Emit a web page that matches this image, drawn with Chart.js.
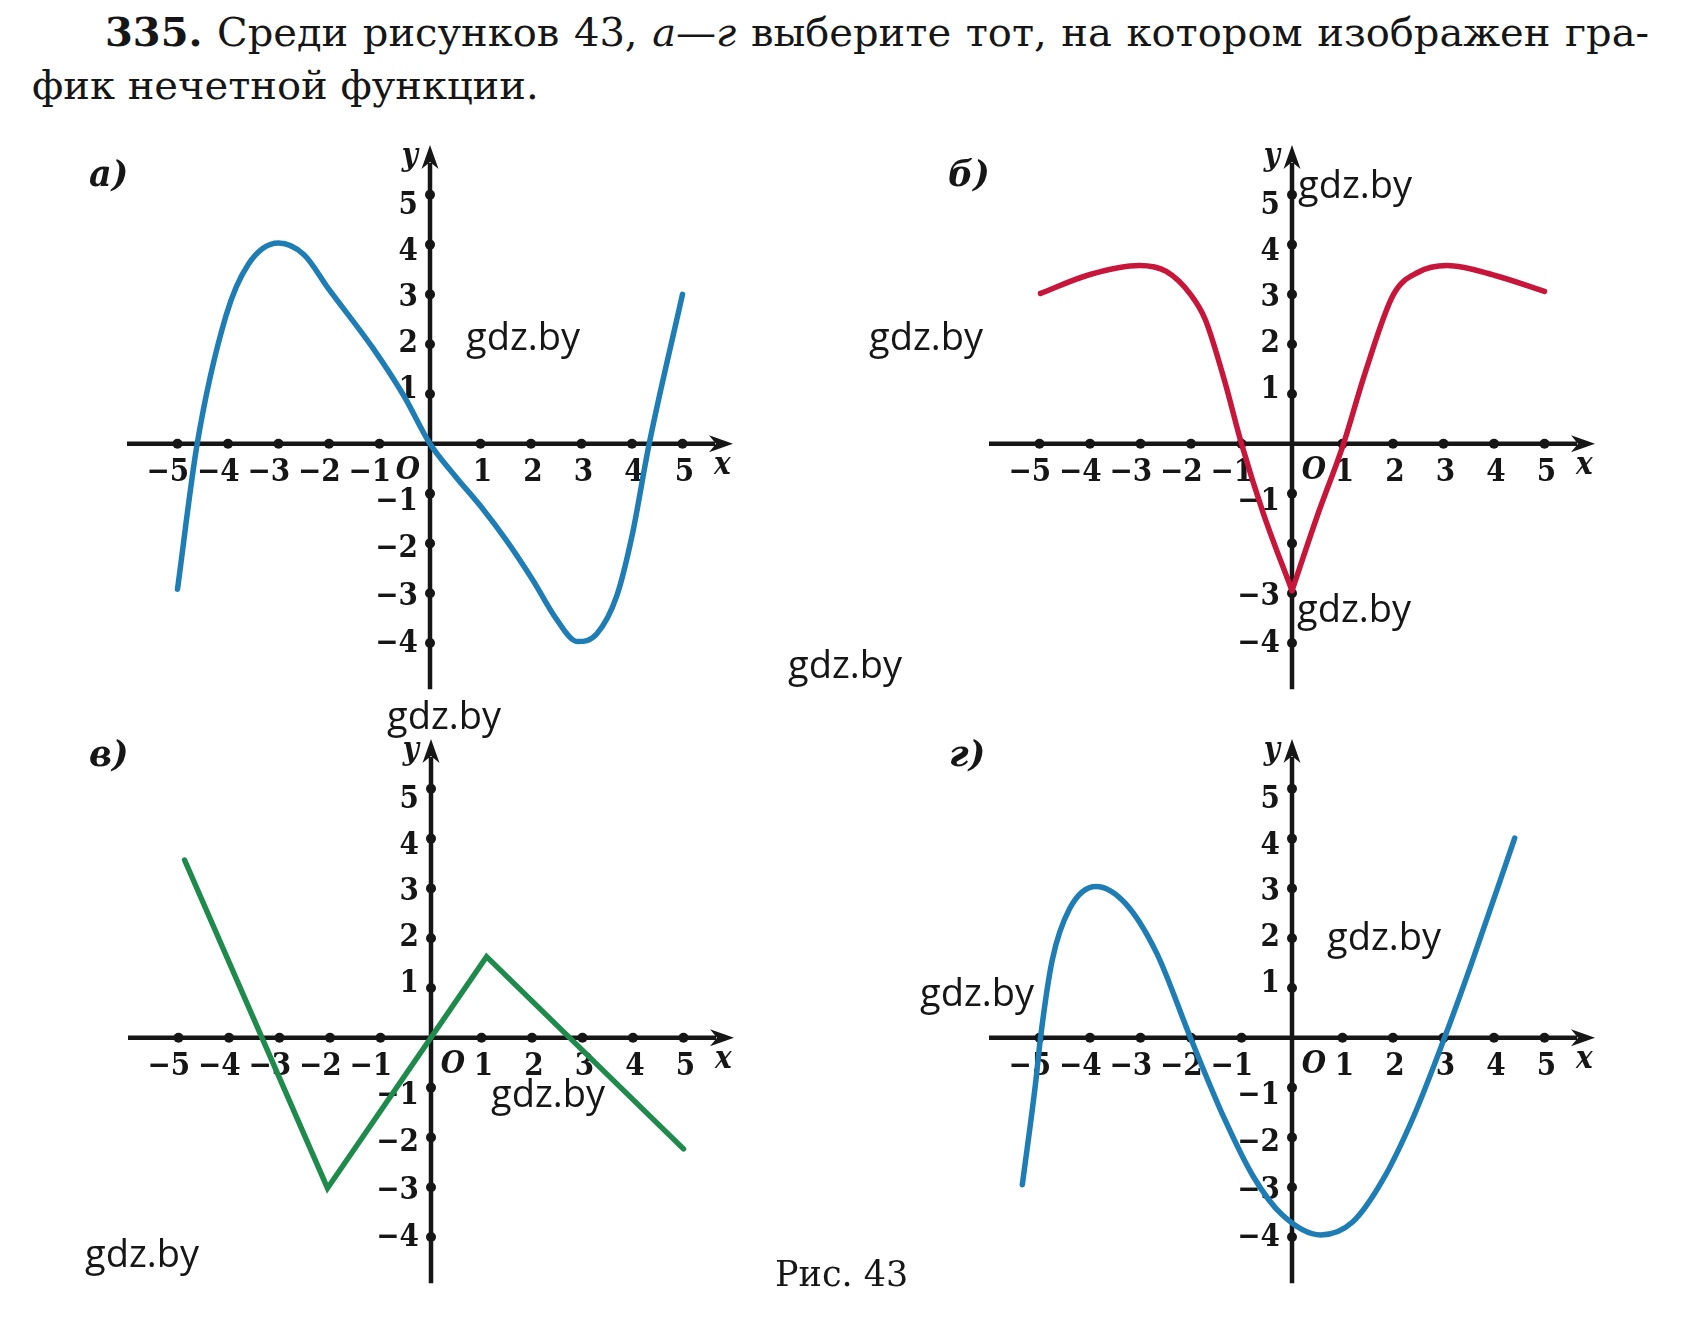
<!DOCTYPE html>
<html>
<head>
<meta charset="utf-8">
<script src="https://cdn.jsdelivr.net/npm/chart.js@4.4.1/dist/chart.umd.min.js"></script>
<style>
html, body { margin: 0; padding: 0; background: #fff; }
#page { position: relative; width: 1692px; height: 1343px; overflow: hidden; background: #fff; }
#page canvas { position: absolute; }
.txt { position: absolute; white-space: pre; color: #161616; }
</style>
</head>
<body>
<div id="page"></div>
<script>
// ticks on both axes
const xTicks = [-5, -4, -3, -2, -1, 1, 2, 3, 4, 5];
const yTicks = [-4, -3, -2, -1, 1, 2, 3, 4, 5];
const yLabelsA = [-4, -3, -2, -1, 1, 2, 3, 4, 5];
const yLabelsB = [-4, -3, -1, 1, 2, 3, 4, 5];
const yLabelsV = [-4, -3, -2, -1, 1, 2, 3, 4, 5];
const yLabelsG = [-4, -3, -2, -1, 1, 2, 3, 4, 5];

// a) blue curve
const curveAX = [-5, -4.61, -4.04, -3.6, -3.0, -2.5, -2.0, -1.13, -0.51, 0, 0.5, 1.0, 1.52, 2.05, 2.49, 2.92, 3.3, 3.7, 4.0, 4.34, 5.0];
const curveAY = [-2.92, 0, 2.57, 3.6, 4.03, 3.8, 3.1, 1.92, 0.95, 0, -0.65, -1.25, -1.95, -2.76, -3.5, -3.97, -3.82, -3.05, -1.85, 0, 3.0];

// б) red curve, two halves meeting in the cusp at x = 0
const curveBLeftX = [-4.98, -4.0, -3.02, -2.49, -2.01, -1.72, -1.34, -1.0, -0.57, 0];
const curveBLeftY = [3.02, 3.4, 3.58, 3.46, 3.0, 2.5, 1.28, 0, -1.39, -2.95];
const curveBRightX = [0, 0.5, 1.02, 1.44, 2.01, 2.49, 3.07, 4.02, 5.0];
const curveBRightY = [-2.95, -1.45, 0, 1.4, 3.0, 3.44, 3.58, 3.38, 3.06];

// в) green broken line
const lineVX = [-4.88, -2.05, 1.1, 5.0];
const lineVY = [3.57, -3.02, 1.63, -2.23];

// г) blue curve
const curveGX = [-5.34, -5.08, -4.98, -4.75, -4.4, -3.88, -3.3, -2.68, -2.01, -1.34, -0.77, -0.2, 0.57, 1.2, 1.8, 2.4, 3.02, 3.54, 4.41];
const curveGY = [-2.95, -0.93, 0, 1.55, 2.6, 3.04, 2.7, 1.7, 0, -1.62, -2.78, -3.55, -3.96, -3.7, -2.85, -1.6, 0, 1.45, 4.01];

const BLUE = '#1f7db5';
const RED = '#c8153a';
const GREEN = '#1e8b4c';
const INK = '#161616';

const UX = 50.5;
const UY = 49.8;
const CW = 720, CH = 600, PAD_L = 70, PAD_T = 20;

const page = document.getElementById('page');
const measureCtx = document.createElement('canvas').getContext('2d');

function pts(xs, ys) {
    return xs.map((x, i) => ({x: x, y: ys[i]}));
}

function minusStr(v) {
    return v < 0 ? '\u2212' + Math.abs(v) : String(v);
}

function arrow(ctx, tx, ty, dx, dy) {
    const len = 24, half = 8.5, notch = 17;
    const px = -dy, py = dx;
    ctx.beginPath();
    ctx.moveTo(tx, ty);
    ctx.lineTo(tx - dx * len + px * half, ty - dy * len + py * half);
    ctx.lineTo(tx - dx * notch, ty - dy * notch);
    ctx.lineTo(tx - dx * len - px * half, ty - dy * len - py * half);
    ctx.closePath();
    ctx.fill();
}

const NUM_FONT = 'bold 31px "DejaVu Serif Condensed", "DejaVu Serif", serif';
const ITAL_FONT = 'italic bold 31px "DejaVu Serif Condensed", "DejaVu Serif", serif';

// the printed y labels sit a little closer together than the dots
function yLabelBaseline(oy, v) {
    return v > 0 ? oy - v * 46 + 0.5 : oy - v * 47.5 + 18.5;
}

// draws the axes with arrows, tick dots and labels under the curves
const axesPlugin = {
    id: 'axes',
    beforeDatasetsDraw(chart, args, opts) {
        const ctx = chart.ctx;
        const x = chart.scales.x, y = chart.scales.y;
        const ox = x.getPixelForValue(0), oy = y.getPixelForValue(0);
        const xStart = x.getPixelForValue(-6), xEnd = x.getPixelForValue(6);
        const yTop = y.getPixelForValue(6), yBottom = y.getPixelForValue(-4.93);

        ctx.save();
        ctx.strokeStyle = INK;
        ctx.fillStyle = INK;
        ctx.lineWidth = 4.5;
        ctx.beginPath();
        ctx.moveTo(xStart, oy);
        ctx.lineTo(xEnd - 18, oy);
        ctx.moveTo(ox, yBottom);
        ctx.lineTo(ox, yTop + 18);
        ctx.stroke();
        arrow(ctx, xEnd, oy, 1, 0);
        arrow(ctx, ox, yTop, 0, -1);

        for (const v of xTicks) {
            ctx.beginPath();
            ctx.arc(x.getPixelForValue(v), oy, 5, 0, Math.PI * 2);
            ctx.fill();
        }
        for (const v of yTicks) {
            ctx.beginPath();
            ctx.arc(ox, y.getPixelForValue(v), 5, 0, Math.PI * 2);
            ctx.fill();
        }

        ctx.font = NUM_FONT;
        ctx.textBaseline = 'alphabetic';
        ctx.textAlign = 'right';
        for (const v of xTicks) {
            const digitW = ctx.measureText(String(Math.abs(v))).width;
            ctx.fillText(minusStr(v), x.getPixelForValue(v) + digitW / 2 + 2, oy + 37);
        }
        for (const v of opts.yLabels) {
            ctx.fillText(minusStr(v), ox - 12, yLabelBaseline(oy, v));
        }

        ctx.font = ITAL_FONT;
        ctx.textAlign = 'center';
        ctx.fillText('O', ox + opts.oSide * 22, oy + 35);
        ctx.textAlign = 'right';
        ctx.fillText('y', ox - 12, yTop + 20);
        ctx.textAlign = 'left';
        ctx.fillText('x', xEnd - 19, oy + 30);
        ctx.restore();
    }
};

function curve(data, color, straight) {
    return {
        data: data,
        showLine: true,
        borderColor: color,
        borderWidth: 5.5,
        pointRadius: 0,
        fill: false,
        borderJoinStyle: 'miter',
        borderCapStyle: 'round',
        cubicInterpolationMode: straight ? 'default' : 'monotone',
        tension: 0
    };
}

function makePanel(ox, oy, datasets, yLabels, oSide) {
    const canvas = document.createElement('canvas');
    canvas.width = CW;
    canvas.height = CH;
    canvas.style.left = (ox - 6 * UX - PAD_L) + 'px';
    canvas.style.top = (oy - 6 * UY - PAD_T) + 'px';
    page.appendChild(canvas);
    return new Chart(canvas, {
        type: 'scatter',
        data: { datasets: datasets },
        options: {
            responsive: false,
            animation: false,
            events: [],
            layout: {
                padding: {
                    left: PAD_L,
                    top: PAD_T,
                    right: CW - PAD_L - 12 * UX,
                    bottom: CH - PAD_T - 11 * UY
                }
            },
            scales: {
                x: { type: 'linear', min: -6, max: 6, display: false },
                y: { type: 'linear', min: -5, max: 6, display: false }
            },
            plugins: {
                legend: { display: false },
                tooltip: { enabled: false },
                axes: { yLabels: yLabels, oSide: oSide }
            }
        },
        plugins: [axesPlugin]
    });
}

makePanel(430, 443.5, [curve(pts(curveAX, curveAY), BLUE)], yLabelsA, -1);
makePanel(1292, 443.5, [
    curve(pts(curveBLeftX, curveBLeftY), RED),
    curve(pts(curveBRightX, curveBRightY), RED)
], yLabelsB, 1);
makePanel(431, 1038, [curve(pts(lineVX, lineVY), GREEN, true)], yLabelsV, 1);
makePanel(1292, 1038, [curve(pts(curveGX, curveGY), BLUE)], yLabelsG, 1);

// plain text around the charts, placed by its baseline
function placeText(html, font, left, baseline, width) {
    const el = document.createElement('div');
    el.className = 'txt';
    el.style.font = font;
    el.style.lineHeight = '0px';
    el.innerHTML = html;
    page.appendChild(el);
    measureCtx.font = font;
    const m = measureCtx.measureText('Hg');
    const shift = (m.fontBoundingBoxAscent - m.fontBoundingBoxDescent) / 2;
    el.style.left = left + 'px';
    el.style.top = (baseline - shift) + 'px';
    if (width) {
        const natural = el.getBoundingClientRect().width;
        const spaces = (el.textContent.match(/ /g) || []).length;
        el.style.wordSpacing = ((width - natural) / spaces) + 'px';
    }
    return el;
}

const TITLE_FONT = '40px "DejaVu Serif", serif';
placeText('<b>335.</b> Среди рисунков 43, <i>а</i>—<i>г</i> выберите тот, на котором изображен гра-', TITLE_FONT, 105, 46, 1544);
placeText('фик нечетной функции.', TITLE_FONT, 32, 99);

const LETTER_FONT = 'italic bold 35px "DejaVu Serif", serif';
placeText('а)', LETTER_FONT, 89, 186);
placeText('б)', LETTER_FONT, 948, 186);
placeText('в)', LETTER_FONT, 89, 766);
placeText('г)', LETTER_FONT, 949, 766);

placeText('Рис. 43', '35px "DejaVu Serif", serif', 775, 1286);

const WM_FONT = '38px "Open Sans", sans-serif';
placeText('gdz.by', WM_FONT, 466, 350);
placeText('gdz.by', WM_FONT, 869, 350);
placeText('gdz.by', WM_FONT, 1298, 198);
placeText('gdz.by', WM_FONT, 1297, 622);
placeText('gdz.by', WM_FONT, 788, 678);
placeText('gdz.by', WM_FONT, 387, 729);
placeText('gdz.by', WM_FONT, 491, 1107);
placeText('gdz.by', WM_FONT, 85, 1267);
placeText('gdz.by', WM_FONT, 920, 1006);
placeText('gdz.by', WM_FONT, 1327, 950);
</script>
</body>
</html>
